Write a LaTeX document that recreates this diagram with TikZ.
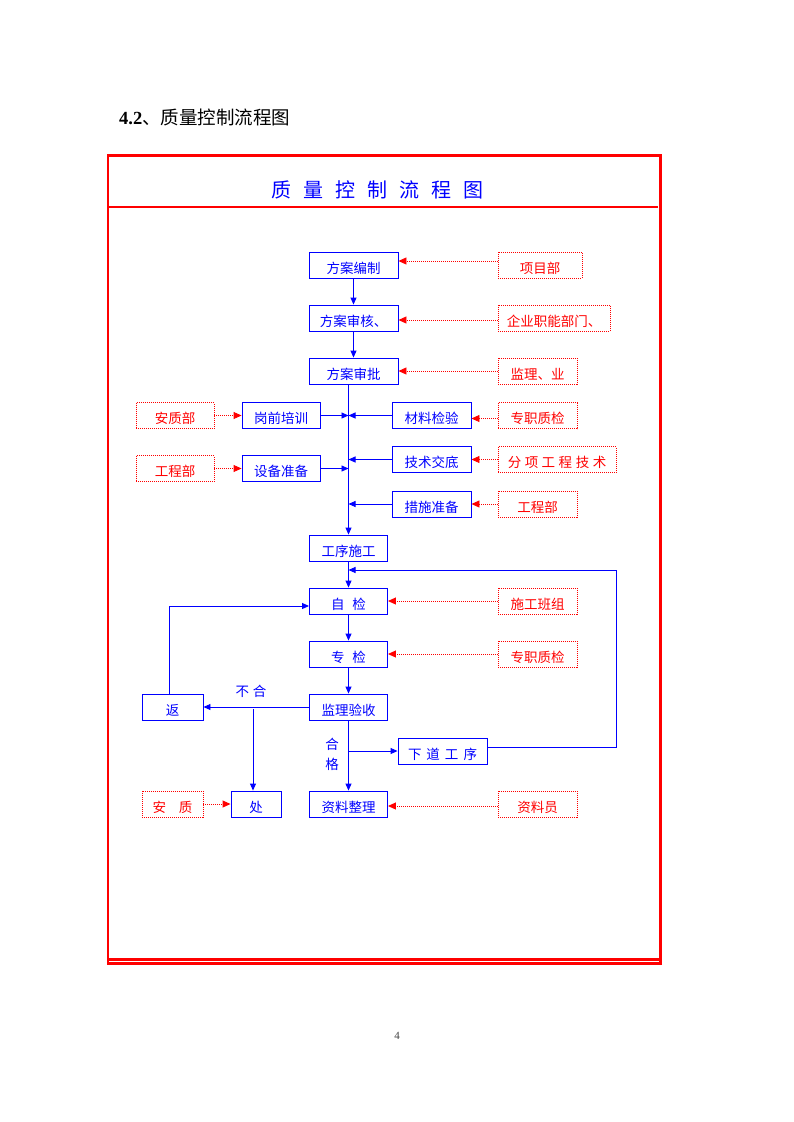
\documentclass[tikz,border=0pt]{standalone}
\usepackage{fontspec}
\setmainfont{Liberation Serif}
\newfontfamily\cjk{Noto Sans CJK SC}
\usetikzlibrary{arrows.meta,calc}
\begin{document}
\begin{tikzpicture}[x=1pt,y=-1pt,
  bb/.style={draw=blue, line width=0.9pt, text=blue, minimum height=26pt, inner sep=0pt,
    text height=16pt, text depth=0pt, font=\cjk\fontsize{13.5}{14}\selectfont},
  rb/.style={draw=red, line width=0.9pt, dash pattern=on 1pt off 1pt, text=red, minimum height=26pt, inner sep=0pt,
    text height=16pt, text depth=0pt, font=\cjk\fontsize{13.5}{14}\selectfont},
  ba/.style={draw=blue, line width=0.9pt, -{Triangle[length=7pt,width=6pt]}},
  ra/.style={draw=red, line width=0.9pt, dash pattern=on 1pt off 1pt, -{Triangle[length=8pt,width=7pt]}},
  lab/.style={text=blue, font=\cjk\fontsize{13.5}{14}\selectfont, inner sep=0pt}
]
\useasboundingbox (0,0) rectangle (793,1122);
\fill[white] (0,0) rectangle (793,1122);

% page header
\node[anchor=west, inner sep=0pt] (hdr) at (119,117) {\fontsize{18.5}{20}\selectfont\textbf{4.2}\cjk 、质量控制流程图};

% frame
\draw[red, line width=2.7pt] (108,155.5) rectangle (660.5,963.6);
\draw[red, line width=2.4pt] (108,207) -- (658,207);
\draw[red, line width=2.4pt] (108,959.3) -- (660.5,959.3);
\node[text=blue, inner sep=0pt, font=\cjk\fontsize{20}{22}\selectfont] (title) at (377,190)
  {质\hspace{12pt}量\hspace{12pt}控\hspace{12pt}制\hspace{12pt}流\hspace{12pt}程\hspace{12pt}图};

% blue boxes
\node[bb, minimum width=89pt] (fa1) at (353.5,265) {方案编制};
\node[bb, minimum width=89pt] (fa2) at (353.5,318) {方案审核、};
\node[bb, minimum width=89pt] (fa3) at (353.5,371) {方案审批};
\node[bb, minimum width=78pt] (gq) at (281,415.5) {岗前培训};
\node[bb, minimum width=78pt] (sb) at (281,468.5) {设备准备};
\node[bb, minimum width=79pt] (cl) at (431.5,415.5) {材料检验};
\node[bb, minimum width=79pt] (js) at (431.5,459.5) {技术交底};
\node[bb, minimum width=79pt] (cs) at (431.5,504) {措施准备};
\node[bb, minimum width=78pt] (gx) at (348.5,548) {工序施工};
\node[bb, minimum width=78pt] (zj) at (348.5,601) {自\hspace{8pt}检};
\node[bb, minimum width=78pt] (zhj) at (348.5,654) {专\hspace{8pt}检};
\node[bb, minimum width=78pt] (jl) at (348.5,707) {监理验收};
\node[bb, minimum width=61pt] (fan) at (172.5,707) {返};
\node[bb, minimum width=89pt] (xd) at (442.5,751) {下\hspace{5pt}道\hspace{5pt}工\hspace{5pt}序};
\node[bb, minimum width=50pt] (chu) at (256,804) {处};
\node[bb, minimum width=78pt] (zl) at (348.5,804) {资料整理};

% red dotted boxes
\node[rb, minimum width=84pt] (r1) at (540,265) {项目部};
\node[rb, minimum width=112pt] (r2) at (554,318) {企业职能部门、};
\node[rb, minimum width=79pt] (r3) at (537.5,371) {监理、业};
\node[rb, minimum width=79pt] (r4) at (537.5,415.5) {专职质检};
\node[rb, minimum width=118pt] (r5) at (557,459.5) {分\hspace{3.5pt}项\hspace{3.5pt}工\hspace{3.5pt}程\hspace{3.5pt}技\hspace{3.5pt}术};
\node[rb, minimum width=79pt] (r6) at (537.5,504) {工程部};
\node[rb, minimum width=78pt] (l1) at (175,415.5) {安质部};
\node[rb, minimum width=78pt] (l2) at (175,468.5) {工程部};
\node[rb, minimum width=79pt] (r7) at (537.5,601) {施工班组};
\node[rb, minimum width=79pt] (r8) at (537.5,654) {专职质检};
\node[rb, minimum width=61pt] (l3) at (172.5,804) {安\hspace{13pt}质};
\node[rb, minimum width=79pt] (r9) at (537.5,804) {资料员};

% labels
\node[lab] (bh) at (251,691) {不\hspace{4pt}合};
\node[lab] (he) at (332,744) {合};
\node[lab] (ge) at (332,764) {格};

% blue connectors
\draw[ba] (fa1) -- (fa2);
\draw[ba] (fa2) -- (fa3);
\draw[ba] (fa3.south -| gx.north) -- (gx.north);
\draw[ba] (gq.east) -- (gq.east -| gx.north);
\draw[ba] (sb.east) -- (sb.east -| gx.north);
\draw[ba] (cl.west) -- (cl.west -| gx.north);
\draw[ba] (js.west) -- (js.west -| gx.north);
\draw[ba] (cs.west) -- (cs.west -| gx.north);
\draw[ba] (gx) -- (zj);
\draw[ba] (zj) -- (zhj);
\draw[ba] (zhj) -- (jl);
\draw[ba] (jl) -- (zl);
\draw[ba] (jl.west) -- (fan.east);
\coordinate (br) at (253,709);
\draw[ba] (br) -- (br |- chu.north);
\draw[ba] ([xshift=-3.5pt]fan.north) |- ([yshift=-5pt]zj.west);
\draw[ba] (jl.south |- xd.west) -- (xd.west);
\coordinate (lp) at (616,570);
\coordinate (lpin) at (348.5,570);
\draw[ba] ([yshift=4pt]xd.east) -| (lp) -- (lpin);

% red connectors
\draw[ra] ([yshift=4pt]r1.west) -- ([yshift=4pt]fa1.east);
\draw[ra] ([yshift=-2pt]r2.west) -- ([yshift=-2pt]fa2.east);
\draw[ra] (r3.west) -- (fa3.east);
\draw[ra] ([yshift=-3pt]r4.west) -- ([yshift=-3pt]cl.east);
\draw[ra] (r5.west) -- (js.east);
\draw[ra] (r6.west) -- (cs.east);
\draw[ra] (l1.east) -- (gq.west);
\draw[ra] (l2.east) -- (sb.west);
\draw[ra] (r7.west) -- (zj.east);
\draw[ra] (r8.west) -- (zhj.east);
\draw[ra] (l3.east) -- (chu.west);
\draw[ra] ([yshift=-2pt]r9.west) -- ([yshift=-2pt]zl.east);

% page number
\node[text=black!75, inner sep=0pt, font=\fontsize{11}{12}\selectfont] (pg) at (397,1036) {4};
\end{tikzpicture}
\end{document}
